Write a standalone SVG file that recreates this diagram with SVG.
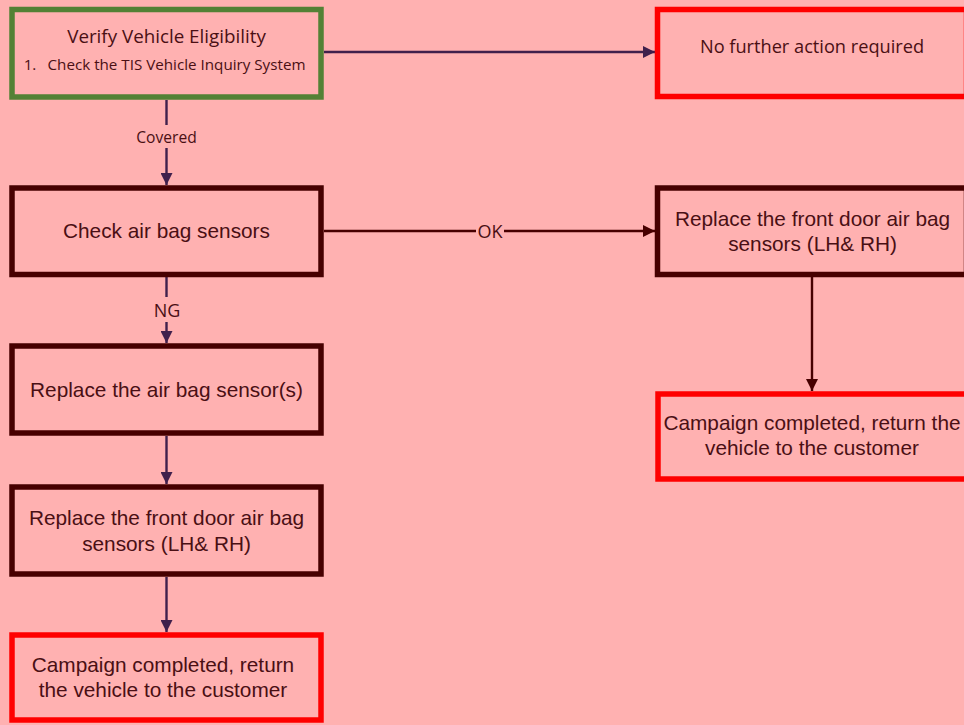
<svg xmlns="http://www.w3.org/2000/svg" width="964" height="725" viewBox="0 0 964 725">
<defs>
<style>
.bg{fill:#FFB1B1}
.box{fill:#FFB1B1;stroke-width:5.5}
.g{stroke:#538135}
.r{stroke:#FF0000}
.d{stroke:#470000}
.t{font-family:"Liberation Sans",Arial,sans-serif;font-size:20.8px;fill:#4A0F14;text-anchor:middle}
.c{font-family:"Open Sans","Noto Sans",sans-serif;fill:#4A0F14;text-anchor:middle}
.lp{stroke:#40204C;stroke-width:2.4;fill:none}
.ld{stroke:#470000;stroke-width:2.4;fill:none}
.lbl{font-family:"Open Sans","Noto Sans",sans-serif;font-size:15.6px;fill:#4A0F14;text-anchor:middle}
.lbl2{font-family:"Open Sans","Noto Sans",sans-serif;font-size:18px;fill:#4A0F14;text-anchor:middle}
</style>
<marker id="ap" viewBox="0 0 10 10" refX="10" refY="5" markerWidth="5" markerHeight="5" orient="auto" markerUnits="strokeWidth"><path d="M0,0 L10,5 L0,10 z" fill="#40204C"/></marker>
<marker id="ad" viewBox="0 0 10 10" refX="10" refY="5" markerWidth="5" markerHeight="5" orient="auto" markerUnits="strokeWidth"><path d="M0,0 L10,5 L0,10 z" fill="#470000"/></marker>
</defs>
<rect class="bg" x="0" y="0" width="964" height="725"/>
<g id="connectors">
<line class="lp" x1="166.5" y1="100" x2="166.5" y2="125"/>
<line class="lp" x1="166.5" y1="148" x2="166.5" y2="185" marker-end="url(#ap)"/>
<text class="lbl" x="166.5" y="143">Covered</text>
<line class="lp" x1="324" y1="52" x2="655" y2="52" marker-end="url(#ap)"/>
<line class="ld" x1="324" y1="231" x2="476" y2="231"/>
<line class="ld" x1="504" y1="231" x2="655" y2="231" marker-end="url(#ad)"/>
<text class="lbl2" x="490" y="237.5">OK</text>
<line class="lp" x1="166.5" y1="277" x2="166.5" y2="297"/>
<line class="lp" x1="166.5" y1="322" x2="166.5" y2="343" marker-end="url(#ap)"/>
<text class="lbl2" x="167" y="317">NG</text>
<line class="lp" x1="166.5" y1="436" x2="166.5" y2="484" marker-end="url(#ap)"/>
<line class="lp" x1="166.5" y1="577" x2="166.5" y2="632" marker-end="url(#ap)"/>
<line class="ld" x1="812" y1="277" x2="812" y2="391" marker-end="url(#ad)"/>
</g>
<g id="n1">
<rect class="box g" x="12" y="9.5" width="309" height="87.5"/>
<text class="c" x="166.5" y="42.5" font-size="18.8">Verify Vehicle Eligibility</text>
<text class="c" font-size="15.2" y="70"><tspan x="30">1.</tspan><tspan x="176.5">Check the TIS Vehicle Inquiry System</tspan></text>
</g>
<g id="n2">
<rect class="box r" x="657.5" y="9.5" width="309" height="87"/>
<text class="c" x="812" y="52.5" font-size="18.2">No further action required</text>
</g>
<g id="n3">
<rect class="box d" x="12" y="188" width="309" height="86.5"/>
<text class="t" x="166.5" y="238">Check air bag sensors</text>
</g>
<g id="n4">
<rect class="box d" x="657.5" y="188" width="309" height="86.5"/>
<text class="t" x="812.5" y="226">Replace the front door air bag</text>
<text class="t" x="812.5" y="251">sensors (LH&amp; RH)</text>
</g>
<g id="n5">
<rect class="box r" x="658" y="394" width="309" height="85"/>
<text class="t" x="812" y="430">Campaign completed, return the</text>
<text class="t" x="812" y="455">vehicle to the customer</text>
</g>
<g id="n6">
<rect class="box d" x="12" y="346" width="309" height="87"/>
<text class="t" x="166.5" y="397">Replace the air bag sensor(s)</text>
</g>
<g id="n7">
<rect class="box d" x="12" y="487" width="309" height="87"/>
<text class="t" x="166.5" y="525">Replace the front door air bag</text>
<text class="t" x="166.5" y="551">sensors (LH&amp; RH)</text>
</g>
<g id="n8">
<rect class="box r" x="12" y="635" width="309" height="85"/>
<text class="t" x="163" y="672">Campaign completed, return</text>
<text class="t" x="163" y="697">the vehicle to the customer</text>
</g>
</svg>
